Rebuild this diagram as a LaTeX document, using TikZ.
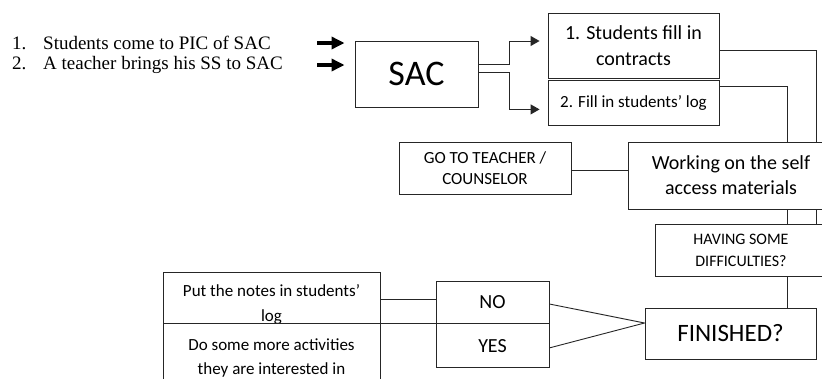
\documentclass[tikz,border=0pt]{standalone}
\usepackage{fontspec}
\setmainfont{Carlito}
\newfontfamily\listfont{Liberation Serif}
\usepackage{tikz}
\usetikzlibrary{positioning,arrows.meta,calc}

\begin{document}
\begin{tikzpicture}[x=1pt, y=-1pt,
  box/.style={draw=black!85, line width=0.9pt, minimum width=#1, align=center, inner sep=0pt},
  box/.default=171pt,
  conn/.style={draw=black!85, line width=0.9pt},
  arr/.style={conn, -{Triangle[length=9pt,width=10pt]}, shorten >=8pt},
  bigarr/.style={line width=4pt, -{Triangle[length=13pt,width=12pt]}, shorten >=10pt},
  item/.style={anchor=west, inner sep=0pt, font=\listfont\fontsize{19}{22}\selectfont}]
\useasboundingbox (0,0) rectangle (822,378);
\clip (0,0) rectangle (822,378);
% entry points
\node[item] (it1) at (12,43) {\makebox[31pt][l]{1.}Students come to PIC of SAC};
\node[item] (it2) at (12,65) {\makebox[31pt][l]{2.}A teacher brings his SS to SAC};
\node[box=123pt, minimum height=66pt, font=\fontsize{36}{40}\selectfont] (sac) at (416.5,74) {SAC};
\coordinate (a1) at (317,43);
\coordinate (a2) at (317,65);
\draw[bigarr] (a1) -- (a1 -| sac.west);
\draw[bigarr] (a2) -- (a2 -| sac.west);
% first steps
\node[box, minimum height=65pt, font=\fontsize{20}{26}\selectfont] (contr) at (633.5,45.5) {1. Students fill in\\contracts};
\node[box, minimum height=45pt, font=\fontsize{17}{20}\selectfont, below=1.5pt of contr] (slog) {2. Fill in students' log};
\draw[arr] ([yshift=10pt]sac.east) -- ++(31,0) |- ([yshift=4.5pt]contr.west);
\draw[arr] ([yshift=2pt]sac.east) -- ++(31,0) |- ([yshift=-6.5pt]slog.west);
% working
\node[box=206pt, minimum height=67pt, font=\fontsize{20}{25}\selectfont] (work) at (731,175.5) {Working on the self\\access materials};
\node[box=172pt, minimum height=52pt, font=\fontsize{17}{21}\selectfont] (teach) at (485,168) {GO TO TEACHER /\\COUNSELOR};
\draw[conn] ([yshift=-4.5pt]contr.east) -| ([xshift=85pt]work.north);
\draw[conn] ([yshift=16.5pt]slog.east) -| ([xshift=56pt]work.north);
\draw[conn] ([yshift=-2pt]teach.east) -- ([yshift=-2pt]teach.east -| work.west);
\node[box=172pt, minimum height=52pt, font=\fontsize{16}{22}\selectfont] (diff) at (741,250) {HAVING SOME\\DIFFICULTIES?};
\draw[conn] ([xshift=56pt]work.south) -- ([xshift=56pt]work.south |- diff.north);
\draw[conn] ([xshift=85pt]work.south) -- ([xshift=85pt]work.south |- diff.north);
% end
\node[box, minimum height=51pt, font=\fontsize{25}{28}\selectfont] (fin) at (730.5,333.5) {FINISHED?};
\draw[conn] ([xshift=46pt]diff.south) -- ([xshift=46pt]diff.south |- fin.north);
\node[box=113pt, minimum height=42pt, font=\fontsize{20}{24}\selectfont] (no) at (492.5,302) {NO};
\node[box=113pt, minimum height=44pt, font=\fontsize{20}{24}\selectfont, below=0pt of no] (yes) {YES};
\coordinate (fj) at ([yshift=10.5pt]fin.west);
\draw[conn] (fj) -- ([yshift=-2pt]no.east);
\draw[conn] (fj) -- ([yshift=-2pt]yes.east);
\node[box=217pt, minimum height=51pt] (notes) at (271.5,297.5) {};
\node[font=\fontsize{17}{25}\selectfont, align=center, inner sep=0pt] (notestxt) at ($(notes.center)+(0,7)$) {Put the notes in students'\\log};
\node[box=217pt, minimum height=69pt, font=\fontsize{17}{24}\selectfont, below=0pt of notes] (more) {Do some more activities\\they are interested in};
\draw[conn] ([yshift=-1.5pt]notes.east) -- ([yshift=-1.5pt]notes.east -| no.west);
\draw[conn] (notes.south east) -- (no.south west);
\end{tikzpicture}
\end{document}
